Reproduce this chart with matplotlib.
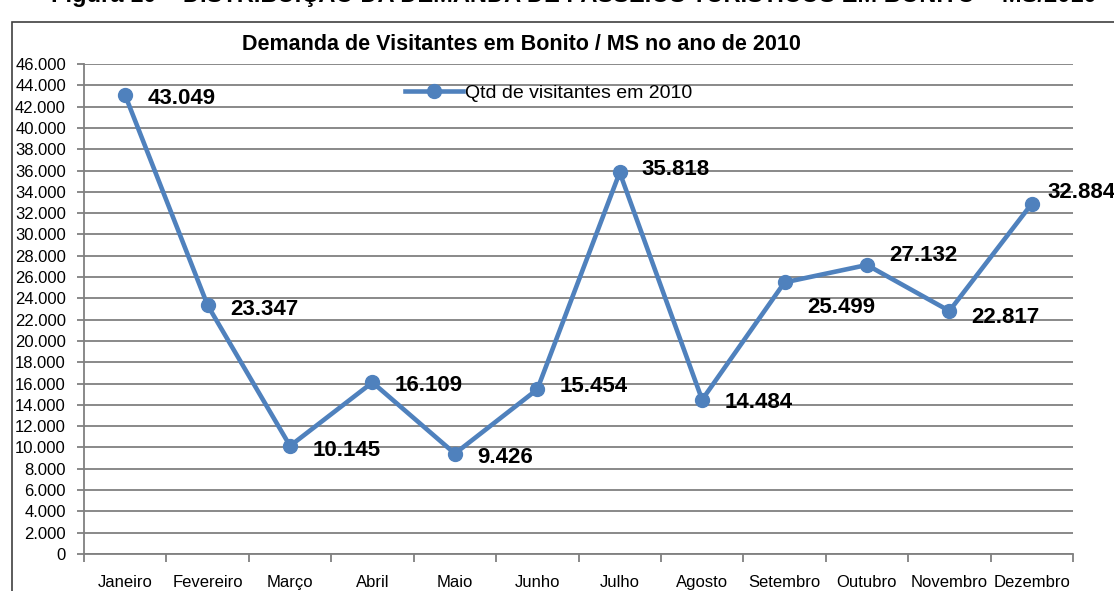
import matplotlib
matplotlib.use("Agg")
import matplotlib.pyplot as plt
from matplotlib.patches import Rectangle
from matplotlib.ticker import FuncFormatter, FixedLocator

plt.rcParams['font.family'] = ['Liberation Sans', 'DejaVu Sans']

# dados
meses = ['Janeiro', 'Fevereiro', 'Março', 'Abril', 'Maio', 'Junho', 'Julho',
         'Agosto', 'Setembro', 'Outubro', 'Novembro', 'Dezembro']
visitantes = [43049, 23347, 10145, 16109, 9426, 15454, 35818,
              14484, 25499, 27132, 22817, 32884]
rotulos = ['43.049', '23.347', '10.145', '16.109', '9.426', '15.454', '35.818',
           '14.484', '25.499', '27.132', '22.817', '32.884']

# deslocamento dos rotulos (pontos)
offsets = [(16, -2), (16, -3), (16, -3), (16, -2), (16, -3), (16, 2), (16, 2),
           (16, -2), (16, -18), (16, 7), (16, -5), (11, 8)]

azul = '#4F81BD'
cinza = '#808080'

fig = plt.figure(figsize=(11.14, 5.91), dpi=100)
ax = fig.add_axes([84 / 1114, 1 - 554 / 591, (1073 - 84) / 1114, (554 - 64) / 591])

x = list(range(len(meses)))
ax.plot(x, visitantes, color=azul, lw=3.3, marker='o', ms=10,
        label='Qtd de visitantes em 2010', zorder=3)

for xi, yi, txt, off in zip(x, visitantes, rotulos, offsets):
    ax.annotate(txt, (xi, yi), xytext=off, textcoords='offset points',
                fontsize=16, fontweight='bold', ha='left', va='center')

ax.set_xlim(-0.5, len(meses) - 0.5)
ax.set_ylim(0, 46000)
ax.set_yticks(range(0, 46001, 2000))
ax.yaxis.set_major_formatter(FuncFormatter(lambda v, p: f'{int(v):,}'.replace(',', '.')))
ax.grid(axis='y', color=cinza, lw=1.3)
ax.set_axisbelow(True)

ax.xaxis.set_major_locator(FixedLocator([i - 0.5 for i in range(len(meses) + 1)]))
ax.xaxis.set_major_formatter(FuncFormatter(lambda v, p: ''))
ax.xaxis.set_minor_locator(FixedLocator(x))
ax.set_xticklabels(meses, minor=True)
ax.tick_params(axis='x', which='minor', length=0, pad=15, labelsize=12)
ax.tick_params(axis='x', which='major', length=6, width=1.3, color=cinza)
ax.tick_params(axis='y', length=5, width=1.3, color=cinza, labelsize=12, pad=8)

for s in ['top', 'right']:
    ax.spines[s].set_visible(False)
for s in ['left', 'bottom']:
    ax.spines[s].set_color(cinza)
    ax.spines[s].set_linewidth(1.3)

ax.legend(loc='upper center', bbox_to_anchor=(0.47, 0.975), frameon=False,
          fontsize=14, handlelength=3.0, handletextpad=0.1, borderaxespad=0)

fig.text(0.468, 1 - 44 / 591, 'Demanda de Visitantes em Bonito / MS no ano de 2010',
         ha='center', va='center', fontsize=15.5, fontweight='bold')

# titulo da figura cortado no topo
fig.text(0.515, 1.011, 'Figura 10 – DISTRIBUIÇÃO DA DEMANDA DE PASSEIOS TURÍSTICOS EM BONITO – MS/2010',
         ha='center', va='center', fontsize=17, fontweight='bold')

fig.patches.append(Rectangle((12 / 1114, -0.05), 1.2, 1 - 22 / 591 + 0.05,
                             transform=fig.transFigure, fill=False,
                             edgecolor='#404040', lw=1.2))

fig.savefig('out.png', dpi=100)
